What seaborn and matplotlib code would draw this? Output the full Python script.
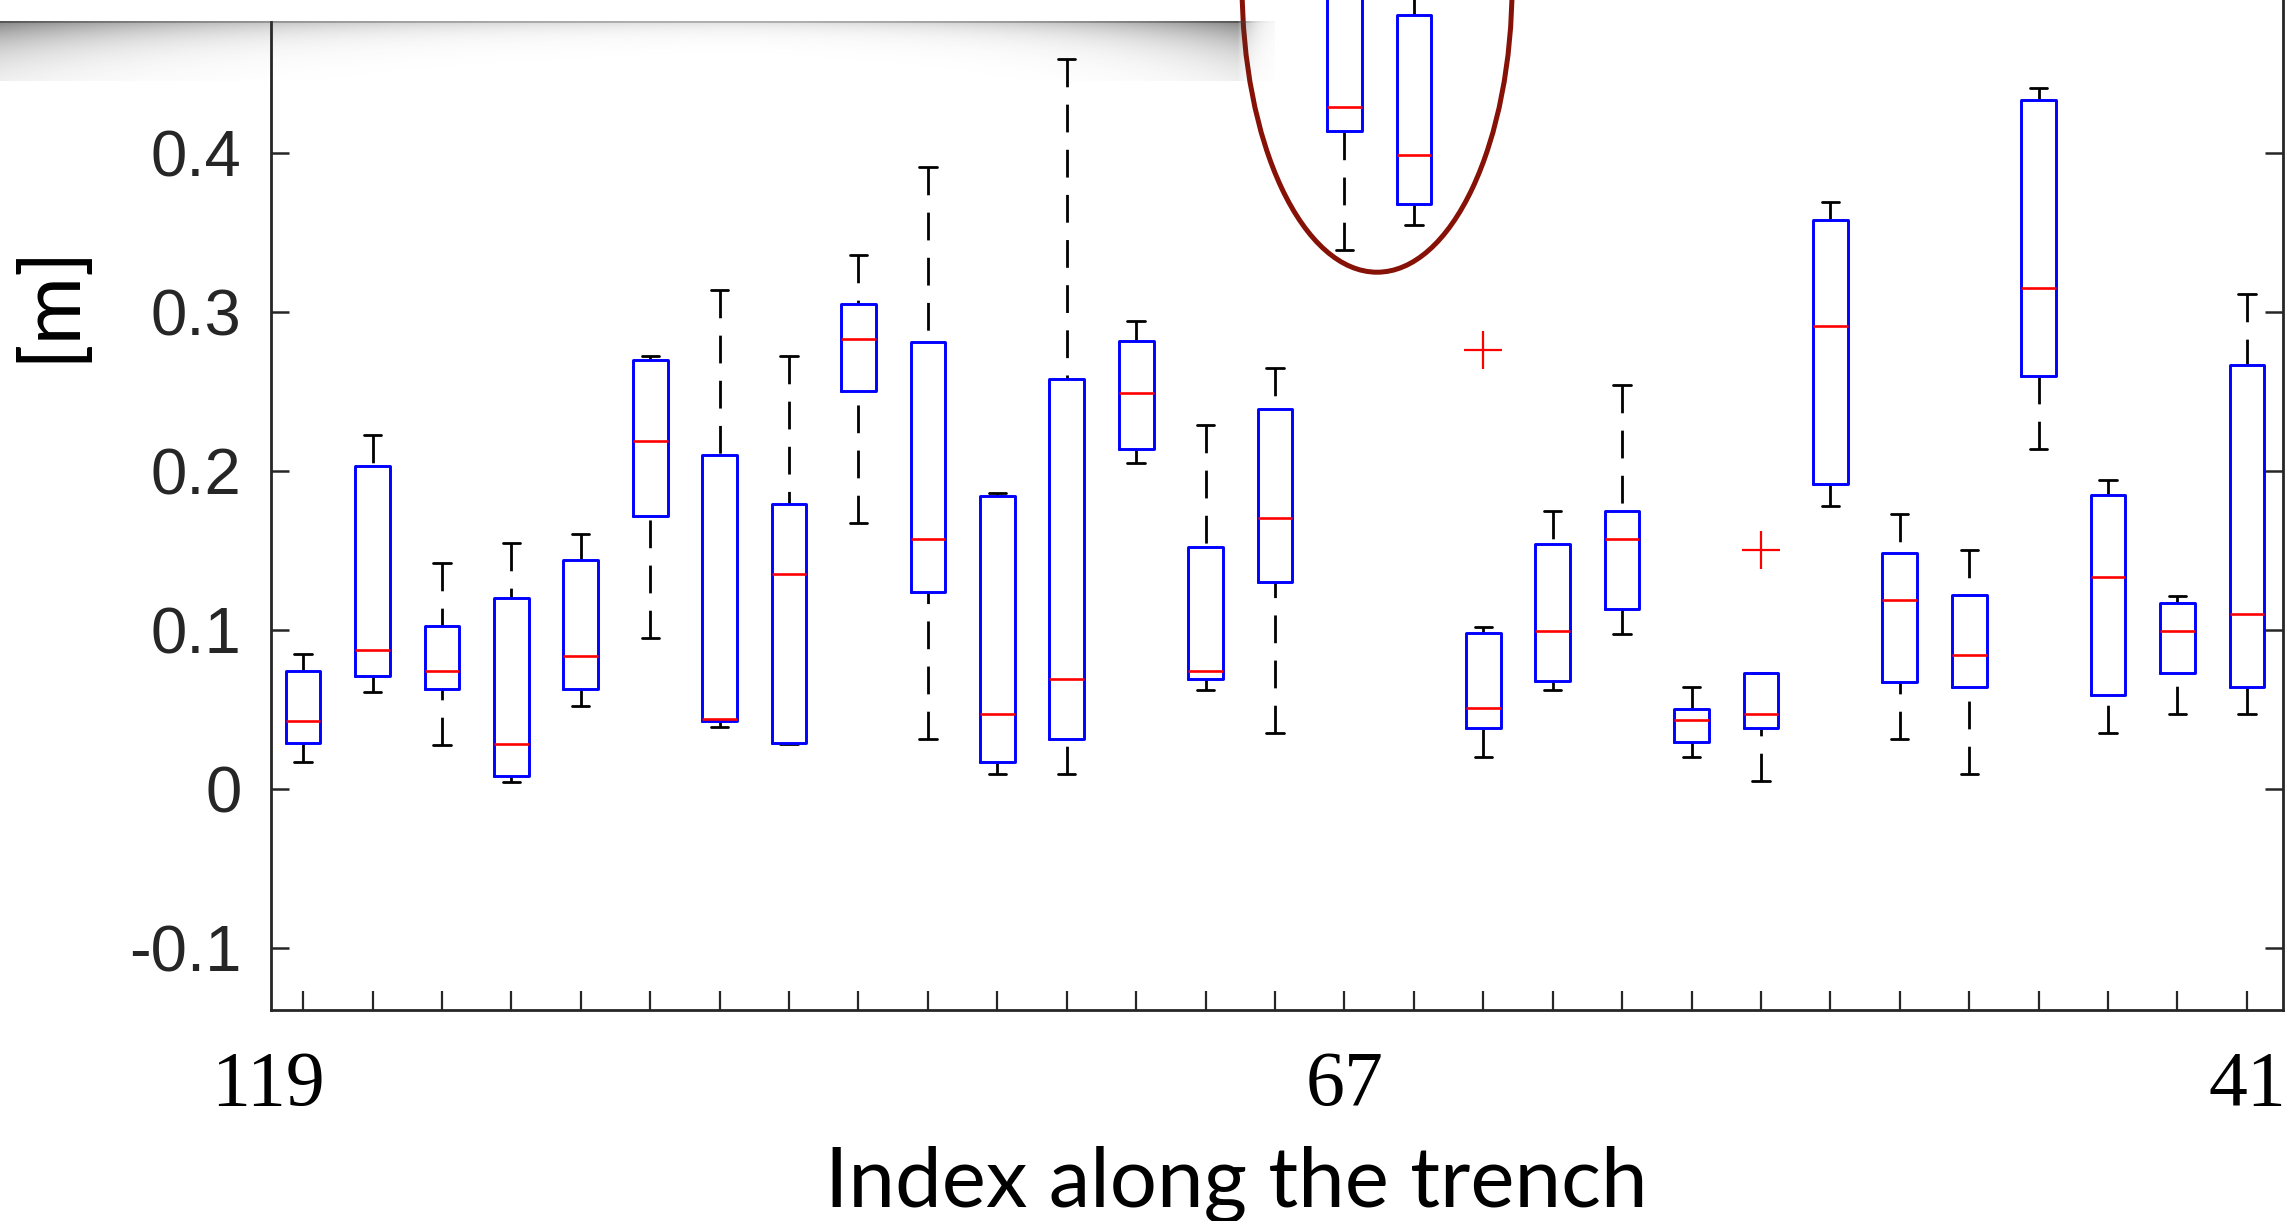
import numpy as np
import matplotlib
matplotlib.use("Agg")
import matplotlib.pyplot as plt
import seaborn as sns
from matplotlib.patches import Ellipse, Rectangle
from matplotlib.transforms import blended_transform_factory

# box statistics, left to right along the trench [m]
whis_low = [0.017, 0.061, 0.0275, 0.004, 0.052, 0.095, 0.039, 0.028, 0.167, 0.031,
            0.009, 0.009, 0.205, 0.062, 0.035, 0.339, 0.355, 0.020, 0.062, 0.097,
            0.020, 0.005, 0.178, 0.031, 0.009, 0.214, 0.035, 0.047, 0.047]
q1 = [0.029, 0.071, 0.063, 0.008, 0.0625, 0.1715, 0.0424, 0.029, 0.250, 0.124,
      0.017, 0.031, 0.214, 0.069, 0.130, 0.414, 0.368, 0.038, 0.068, 0.113,
      0.0295, 0.038, 0.192, 0.067, 0.064, 0.2595, 0.059, 0.073, 0.064]
medians = [0.0425, 0.087, 0.074, 0.028, 0.0835, 0.219, 0.044, 0.135, 0.283, 0.157,
           0.047, 0.069, 0.249, 0.074, 0.170, 0.429, 0.399, 0.051, 0.099, 0.157,
           0.043, 0.047, 0.291, 0.119, 0.084, 0.315, 0.133, 0.099, 0.110]
q3 = [0.074, 0.203, 0.1025, 0.120, 0.144, 0.270, 0.210, 0.179, 0.305, 0.281,
      0.184, 0.258, 0.282, 0.152, 0.239, 0.560, 0.487, 0.098, 0.154, 0.175,
      0.050, 0.073, 0.3576, 0.148, 0.122, 0.4335, 0.185, 0.117, 0.2665]
whis_high = [0.0845, 0.2225, 0.142, 0.1545, 0.160, 0.272, 0.314, 0.272, 0.336, 0.391,
             0.186, 0.459, 0.294, 0.229, 0.265, 0.600, 0.497, 0.102, 0.175, 0.254,
             0.064, 0.073, 0.369, 0.173, 0.150, 0.4407, 0.194, 0.121, 0.311]

# outliers (box index, value)
outlier_box = [17, 21]
outlier_val = [0.276, 0.150]

y_ticks = [-0.1, 0, 0.1, 0.2, 0.3, 0.4]
y_tick_labels = ["-0.1", "0", "0.1", "0.2", "0.3", "0.4"]
x_labels = ["119", "67", "41"]
x_label_pos = [-0.5, 15, 28]

W, H = 2290, 1221


def add_panel_shadow(fig):
    # white callout panel cut off at the top left, with its soft drop shadow
    ov = fig.add_axes([0, 0, 1, 1], zorder=5)
    ov.set_xlim(0, W)
    ov.set_ylim(H, 0)
    ov.axis("off")
    y0, x1 = 20.7, 1237
    xs = np.arange(0, 1275)
    ys = np.arange(0, 60)
    X, Y = np.meshgrid(xs, ys)
    edge = np.maximum(np.exp(-X / 260.0), np.exp(-(x1 - X) / 180.0))
    amp = 0.14 + 0.50 * edge
    length = 7 + 22 * edge
    alpha = amp * np.exp(-Y / length)
    alpha[:2] += 0.25
    alpha = np.where(X > x1, alpha * np.exp(-(X - x1) / 12.0), alpha)
    img = np.zeros((len(ys), len(xs), 4))
    img[..., :3] = 0.25
    img[..., 3] = np.clip(alpha, 0, 1)
    ov.imshow(img, extent=[0, len(xs), y0 + len(ys), y0], aspect="auto",
              interpolation="bilinear", zorder=1)
    ov.add_patch(Rectangle((0, -5), x1, y0 + 5, facecolor="white",
                           edgecolor="none", zorder=2))


def main():
    sns.set_style("ticks")
    plt.rcParams["axes.unicode_minus"] = False
    plt.rcParams["lines.scale_dashes"] = False

    fig = plt.figure(figsize=(W / 100, H / 100), dpi=100)
    ax = fig.add_axes([270.5 / W, (H - 1009.5) / H, 2012.5 / W, 0.759 * 1589 / H])

    positions = np.arange(len(medians))
    stats = [dict(whislo=a, q1=b, med=c, q3=d, whishi=e, fliers=[])
             for a, b, c, d, e in zip(whis_low, q1, medians, q3, whis_high)]
    bp = ax.bxp(stats, positions=positions, widths=0.5, showfliers=False,
                boxprops=dict(color="#0000ff", linewidth=2.1, zorder=3),
                medianprops=dict(color="#ff0000", linewidth=1.9, zorder=4),
                whiskerprops=dict(color="black", linewidth=2.0,
                                  linestyle=(0, (20, 12.5)), zorder=2),
                capprops=dict(color="black", linewidth=2.0, zorder=2))
    # MATLAB draws the dashes starting from the whisker end
    for w in bp["whiskers"]:
        w.set_ydata(np.asarray(w.get_ydata())[::-1])

    sns.scatterplot(x=positions[outlier_box], y=outlier_val, marker="+", s=750,
                    color="#ff0000", linewidth=1.6, ax=ax, zorder=4, legend=False)

    ax.set_xlim(-0.47, 28.52)
    ax.set_ylim(-0.139, 0.62)
    ax.set_xticks(positions)
    ax.set_xticklabels([])
    ax.set_yticks(y_ticks)
    ax.set_yticklabels(y_tick_labels)
    for s in ["left", "right", "bottom"]:
        ax.spines[s].set_visible(True)
        ax.spines[s].set_color("#262626")
        ax.spines[s].set_linewidth(2.0)
    ax.spines["top"].set_visible(False)
    ax.tick_params(axis="x", direction="in", length=14, width=1.6, color="#262626",
                   bottom=True, top=False)
    ax.tick_params(axis="y", direction="in", length=13, width=1.8, color="#262626",
                   left=True, right=True, labelsize=47, labelcolor="#262626", pad=21)
    for lab in ax.get_yticklabels():
        lab.set_family("Liberation Sans")

    # highlighted pair of boxes
    ax.add_patch(Ellipse((15.47, 0.506), 3.89, 0.362, fill=False,
                         edgecolor="#861106", linewidth=3.6, zorder=6))

    trans = blended_transform_factory(ax.transData, fig.transFigure)
    for pos, lab in zip(x_label_pos, x_labels):
        ax.text(pos, 1 - 1105 / H, lab, transform=trans, ha="center", va="baseline",
                fontsize=56, family="Liberation Serif", color="black")

    fig.text(1236 / W, 1 - 1206 / H, "Index along the trench", ha="center",
             va="baseline", fontsize=60, family="Lato", color="black")
    fig.text(50 / W, 1 - 302 / H, "[m]", rotation=90, ha="center", va="center",
             fontsize=60, family="Lato", color="black")

    add_panel_shadow(fig)

    fig.savefig("out.png", dpi=100, facecolor="white")


if __name__ == "__main__":
    main()
